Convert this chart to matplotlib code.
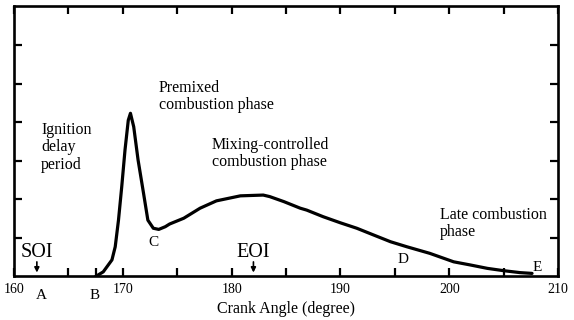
import matplotlib
matplotlib.use("Agg")
import matplotlib.pyplot as plt
from matplotlib.ticker import FixedLocator, FuncFormatter

# heat release curve
crank = [167.5, 168.2, 169.0, 169.3, 169.6, 169.9, 170.2, 170.5, 170.7, 171.0,
         171.4, 171.9, 172.3, 172.8, 173.3, 173.9, 174.3, 175.6, 177.1, 178.6,
         180.8, 182.9, 183.5, 184.8, 186.3, 186.9, 188.4, 190.0, 191.5, 193.0,
         194.6, 196.1, 198.2, 200.4, 201.9, 203.5, 205.0, 206.5, 207.6]
hrr = [0.0, 0.12, 0.43, 0.77, 1.46, 2.33, 3.28, 4.05, 4.23, 3.88,
       3.02, 2.16, 1.46, 1.25, 1.22, 1.29, 1.36, 1.51, 1.77, 1.96,
       2.09, 2.11, 2.07, 1.94, 1.77, 1.72, 1.55, 1.39, 1.25, 1.08,
       0.90, 0.77, 0.60, 0.38, 0.30, 0.21, 0.15, 0.10, 0.08]

x_ticks = [160, 165, 170, 175, 180, 185, 190, 195, 200, 205, 210]
y_ticks = [1, 2, 3, 4, 5, 6]
soi = 162.1
eoi = 182.0

plt.rcParams['font.family'] = ['Liberation Serif', 'DejaVu Serif']

fig = plt.figure(figsize=(5.74, 3.2), dpi=100)
ax = fig.add_axes([0.0244, 0.136, 0.948, 0.844])

ax.plot(crank, hrr, color="black", lw=2.3, solid_joinstyle="round", solid_capstyle="round")

ax.set_xlim(160, 210)
ax.set_ylim(0, 7)
ax.xaxis.set_major_locator(FixedLocator(x_ticks))
ax.xaxis.set_major_formatter(FuncFormatter(lambda v, p: f"{v:.0f}" if v % 10 == 0 else ""))
ax.xaxis.set_minor_locator(FixedLocator([167.5]))
ax.set_yticks(y_ticks)
ax.set_yticklabels([])

for s in ax.spines.values():
    s.set_linewidth(1.9)
ax.tick_params(which="major", direction="in", length=6, width=1.6,
               top=True, right=True, labelsize=10, pad=5)
ax.tick_params(which="minor", direction="in", length=6, width=1.6, top=False, bottom=True)

ax.set_xlabel("Crank Angle (degree)", fontsize=11.5, labelpad=3)

fs = 11.5
ax.text(173.3, 5.1, "Premixed\ncombustion phase", fontsize=fs, va="top", ha="left", linespacing=1.1)
ax.text(162.5, 4.0, "Ignition\ndelay\nperiod", fontsize=fs, va="top", ha="left", linespacing=1.1)
ax.text(178.2, 3.62, "Mixing-controlled\ncombustion phase", fontsize=fs, va="top", ha="left", linespacing=1.1)
ax.text(199.15, 1.8, "Late combustion\nphase", fontsize=fs, va="top", ha="left", linespacing=1.1)

ax.text(soi, 0.5, "SOI", fontsize=14.5, ha="center", va="baseline")
ax.text(eoi, 0.5, "EOI", fontsize=14.5, ha="center", va="baseline")
for xp in (soi, eoi):
    ax.annotate("", xy=(xp, 0.03), xytext=(xp, 0.45),
                arrowprops=dict(arrowstyle="-|>", lw=1.2, color="black", mutation_scale=7))

ax.text(172.8, 0.79, "C", fontsize=11, ha="center", va="baseline")
ax.text(195.75, 0.35, "D", fontsize=11, ha="center", va="baseline")
ax.text(208.1, 0.14, "E", fontsize=11, ha="center", va="baseline")
ax.text(162.5, -0.58, "A", fontsize=11, ha="center", va="baseline", clip_on=False)
ax.text(167.4, -0.58, "B", fontsize=11, ha="center", va="baseline", clip_on=False)

fig.savefig("out.png", dpi=100)
